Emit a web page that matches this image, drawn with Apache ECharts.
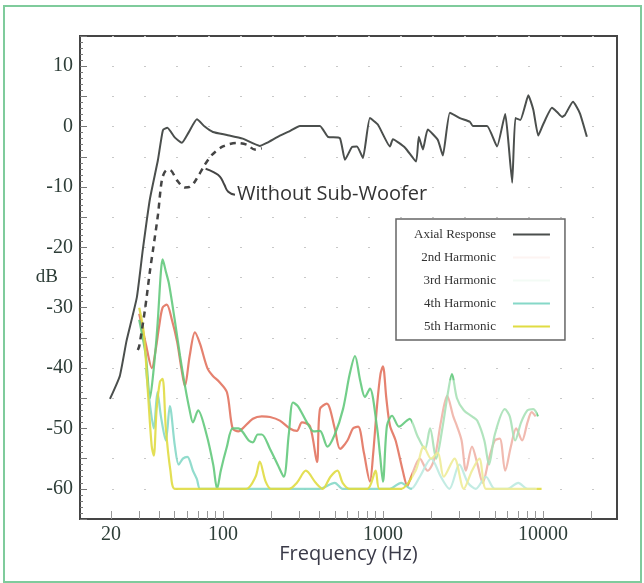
<!DOCTYPE html>
<html>
<head>
<meta charset="utf-8">
<script src="https://cdn.jsdelivr.net/npm/echarts@6/dist/echarts.min.js"></script>
<style>
  html, body { margin: 0; padding: 0; background: #fff; }
  #chart { width: 644px; height: 583px; }
</style>
</head>
<body>
<div id="chart"></div>
<script>
  // frequency response, [Hz, dB]
  var axialResponse = [[19.7,-45.1],[22.7,-41.3],[25,-35.5],[29,-28.3],[31.6,-20.4],[35,-12],[39.3,-5.5],[42.2,-0.6],[45,-0.2],[50,-1.8],[55.4,-2.7],[61,-1],[68.8,1.2],[77,0],[86.6,-0.9],[106,-1.4],[133,-2],[170,-3.2],[188,-2.7],[227,-1.5],[260,-0.8],[303,0.1],[404,0.1],[453,-1.7],[538,-1.9],[579,-5.5],[640,-3.4],[688,-3.3],[750,-5.2],[829,1.4],[931,0.3],[1106,-3.3],[1154,-2.1],[1375,-3.5],[1610,-5.8],[1675,-1.7],[1778,-3.8],[1905,-0.5],[2200,-2.2],[2367,-4.8],[2620,2.3],[3026,1.4],[3492,0.8],[3643,0.1],[4471,0.1],[5163,-3.3],[5808,2.1],[6062,-2.2],[6420,-9.3],[6722,1.4],[7217,1.1],[7757,3.6],[8095,5.2],[8700,2.8],[9336,-1.5],[10000,0.3],[11380,3.1],[12250,2.4],[13160,1.6],[13700,1.9],[15400,4.1],[17000,2.2],[18800,-1.7]]
  var withoutSub = [[29.4,-37],[30,-36.4],[32.6,-30.3],[34.9,-24.2],[36.6,-20.4],[39.3,-14.6],[41.6,-8.8],[44,-7.3],[46.6,-7.2],[52,-9],[57.9,-10.1],[62,-10],[66.9,-9.1],[77.2,-6.3],[85.4,-4.7],[100,-3.3],[122,-2.7],[141,-3],[158,-3.8],[175,-3.6]]
  var harm2 = [[30,-31],[33,-36],[36,-40],[38,-37],[40,-33],[42,-30],[44.6,-29.5],[48,-32],[51.8,-35.7],[55,-40],[57.9,-43],[62,-38],[66.9,-34.1],[72,-36],[80,-40],[86.6,-41.3],[95,-42.3],[106,-44],[115,-50],[125,-50.5],[133,-50],[154,-48.4],[175,-48],[197,-48.1],[227,-48.7],[262,-50],[290,-50.4],[312,-49],[350,-49.6],[387,-55.6],[404,-46.8],[446,-45.9],[500,-50],[540,-53.4],[600,-52],[650,-50],[700,-49.7],[760,-54],[829,-58.8],[870,-54],[920,-46],[965,-41],[1000,-39.7],[1050,-45],[1106,-49.5],[1200,-52],[1330,-57],[1420,-59.5],[1500,-58],[1700,-55],[1900,-57],[2100,-55],[2300,-49],[2520,-44.6],[2750,-48],[2900,-49.6],[3100,-52],[3300,-57],[3600,-53],[3900,-56],[4200,-59],[4600,-55],[5000,-52],[5370,-51.7],[5800,-57],[6300,-53],[6800,-50],[7400,-52],[8000,-49],[8500,-47.3],[9000,-48]]
  var harm3 = [[30,-32],[33,-38],[35,-45],[37,-40],[39,-33],[41,-24],[42,-22],[44,-24],[46,-26],[50,-32],[54,-38],[58,-43],[62,-47],[65,-49],[70,-47],[79,-51],[87,-56],[92,-60],[97,-57],[106,-53],[115,-50],[125,-50],[133,-50.6],[145,-52],[154,-52.3],[165,-51],[175,-51],[197,-53.4],[220,-56],[240,-58],[258,-51],[274,-45.7],[294,-46.3],[335,-49],[370,-50.5],[404,-50.4],[450,-53],[500,-51],[563,-46.8],[620,-41],[669,-38],[720,-42],[772,-44.8],[829,-43.4],[915,-49.5],[960,-54.5],[1000,-58.8],[1060,-49.5],[1140,-47.9],[1260,-49.7],[1410,-48.7],[1470,-48.4],[1640,-51.2],[1830,-53.4],[1970,-50],[2150,-55],[2350,-50],[2550,-44],[2700,-41],[2900,-45],[3200,-47],[3600,-48],[3880,-48.7],[4300,-52],[4600,-56],[5000,-51],[5780,-46.8],[6200,-48],[6700,-52],[7300,-49],[8000,-47],[8700,-46.8],[9300,-48]]
  var harm4 = [[33,-40],[35,-46],[37,-50],[39,-44],[41,-48],[44,-52],[46.6,-46.3],[50.1,-52.9],[53,-56],[56.2,-55],[60,-54.7],[65,-57],[68.8,-58.4],[72,-60],[80,-60],[92,-60],[100,-60],[130,-60],[170,-60],[200,-60],[300,-60],[400,-60],[500,-59],[560,-60],[700,-60],[900,-60],[1100,-60],[1300,-59],[1500,-60],[1700,-58],[2000,-55],[2300,-58],[2600,-60],[3000,-56],[3400,-59],[3800,-60],[4400,-58],[5000,-60],[6000,-60],[7000,-59],[8000,-60],[9000,-60]]
  var harm5 = [[30,-30],[32,-34],[34,-44],[35.9,-52.9],[37,-54.5],[38.5,-47],[40.4,-42.3],[42,-41.8],[44,-50],[47,-57],[50,-60],[60,-60],[80,-60],[100,-60],[140,-60],[160,-58],[170,-55.5],[185,-58.8],[200,-60],[260,-60],[290,-59],[330,-57],[380,-59],[420,-60],[470,-58],[520,-57],[560,-59],[620,-60],[800,-60],[900,-57],[950,-60],[1100,-60],[1300,-60],[1600,-57],[1800,-53],[2000,-55],[2200,-54],[2400,-58],[2800,-55],[3200,-60],[3600,-57],[4000,-55],[4400,-60],[5000,-60],[6000,-60],[7000,-60],[8000,-60],[9000,-60],[9800,-60]]
  // leader line from the dashed curve to its note
  var leader = [[78,-7],[88,-7.6],[95.8,-8.3],[102,-9.6],[108,-10.8],[119,-11.3]]

  var xLabels = [20, 100, 1000, 10000]
  var xTicks = [20,30,40,50,60,70,80,90,100,200,300,400,500,600,700,800,900,1000,2000,3000,4000,5000,6000,7000,8000,9000,10000,20000]
  var yLabels = [-60, -50, -40, -30, -20, -10, 0, 10]

  var serif = 'Liberation Serif'
  var sans = 'Open Sans'

  var myChart = echarts.init(document.getElementById('chart'))
  var option = {
    animation: false,
    backgroundColor: '#fff',
    graphic: [{
      type: 'rect', shape: {x: 4, y: 6, width: 637, height: 576},
      style: {fill: 'none', stroke: '#7fcb9c', lineWidth: 2}
    }],
    grid: {left: 80, top: 36, right: 27, bottom: 64, show: true, borderColor: '#454545', borderWidth: 2},
    legend: {
      orient: 'vertical', left: 396, top: 219, align: 'right',
      backgroundColor: '#fff', borderColor: '#666', borderWidth: 1.5,
      padding: [9, 15, 7, 18], itemGap: 10, itemWidth: 37, itemHeight: 2, icon: 'rect',
      data: [
        {name: 'Axial Response'},
        {name: '2nd Harmonic', itemStyle: {opacity: 0.08}},
        {name: '3rd Harmonic', itemStyle: {opacity: 0.08}},
        {name: '4th Harmonic'},
        {name: '5th Harmonic'}
      ],
      formatter: function (name) { return '{t|' + name + '}' },
      textStyle: {rich: {t: {width: 104, align: 'right', fontFamily: serif, fontSize: 13, color: '#333', padding: [0, 12, 0, 0]}}}
    },
    xAxis: {
      type: 'log', logBase: 10, min: 12.8, max: 29000,
      name: 'Frequency (Hz)', nameLocation: 'middle', nameGap: 25, nameMoveOverlap: false,
      nameTextStyle: {fontFamily: sans, fontSize: 20, color: '#3a3a48'},
      axisLine: {show: true, onZero: false, lineStyle: {color: '#454545', width: 2}},
      axisTick: {show: true, inside: true, length: 8, customValues: xTicks, lineStyle: {color: '#999'}},
      axisLabel: {customValues: xLabels, fontFamily: serif, fontSize: 20, color: '#2e3e38', margin: 6,
        formatter: function (v) { return String(v) }},
      splitLine: {show: false}
    },
    yAxis: {
      type: 'value', min: -65, max: 15, interval: 5,
      name: 'dB', nameLocation: 'middle', nameGap: 22, nameRotate: 0, nameMoveOverlap: false,
      nameTextStyle: {fontFamily: serif, fontSize: 19, color: '#2e3e38'},
      axisLine: {show: true, lineStyle: {color: '#454545', width: 2}},
      axisTick: {show: true, inside: true, length: 7, lineStyle: {color: '#777'}},
      minorTick: {show: true, splitNumber: 5, length: 3, lineStyle: {color: '#777'}},
      axisLabel: {
        fontFamily: serif, fontSize: 20, color: '#2e3e38', margin: 7,
        formatter: function (v) { return yLabels.indexOf(v) >= 0 ? String(v) : '' }
      },
      splitLine: {show: true, lineStyle: {color: '#c8c8c8', type: [2, 30]}}
    },
    series: [
      {name: '2nd Harmonic', type: 'line', data: harm2, symbol: 'none', smooth: 0.3,
        lineStyle: {color: '#e2735f', width: 2.2, opacity: 0.9}, itemStyle: {color: '#e2735f'}},
      {name: '3rd Harmonic', type: 'line', data: harm3, symbol: 'none', smooth: 0.3,
        lineStyle: {color: '#63c97c', width: 2.2, opacity: 0.9}, itemStyle: {color: '#63c97c'}},
      {name: '4th Harmonic', type: 'line', data: harm4, symbol: 'none', smooth: 0.3,
        lineStyle: {color: '#86d8c8', width: 2.2, opacity: 0.9}, itemStyle: {color: '#86d8c8'}},
      {name: '5th Harmonic', type: 'line', data: harm5, symbol: 'none', smooth: 0.3,
        lineStyle: {color: '#e0dc42', width: 2.2, opacity: 0.9}, itemStyle: {color: '#e0dc42'}},
      {name: 'Axial Response', type: 'line', data: axialResponse, symbol: 'none', smooth: 0.15, z: 4,
        lineStyle: {color: '#4b4f4d', width: 2}, itemStyle: {color: '#4b4f4d'}},
      {name: 'Without Sub-Woofer', type: 'line', data: withoutSub, symbol: 'none', smooth: 0.3, z: 4,
        lineStyle: {color: '#444', width: 2.5, type: [6, 5]}},
      {name: 'leader', type: 'line', data: leader, symbol: 'none', smooth: 0.5, z: 4,
        lineStyle: {color: '#444', width: 2},
        endLabel: {show: true, formatter: 'Without Sub-Woofer', fontFamily: sans, fontSize: 20, color: '#333', distance: 2}},
      {name: 'fade', type: 'line', data: [], z: 6,
        markArea: {silent: true, z: 6, itemStyle: {color: 'rgba(255,255,255,0.45)'},
          data: [[{coord: [1520, -42]}, {coord: [9140, -60.8]}]]}}
    ]
  }
  myChart.setOption(option)
</script>
</body>
</html>
